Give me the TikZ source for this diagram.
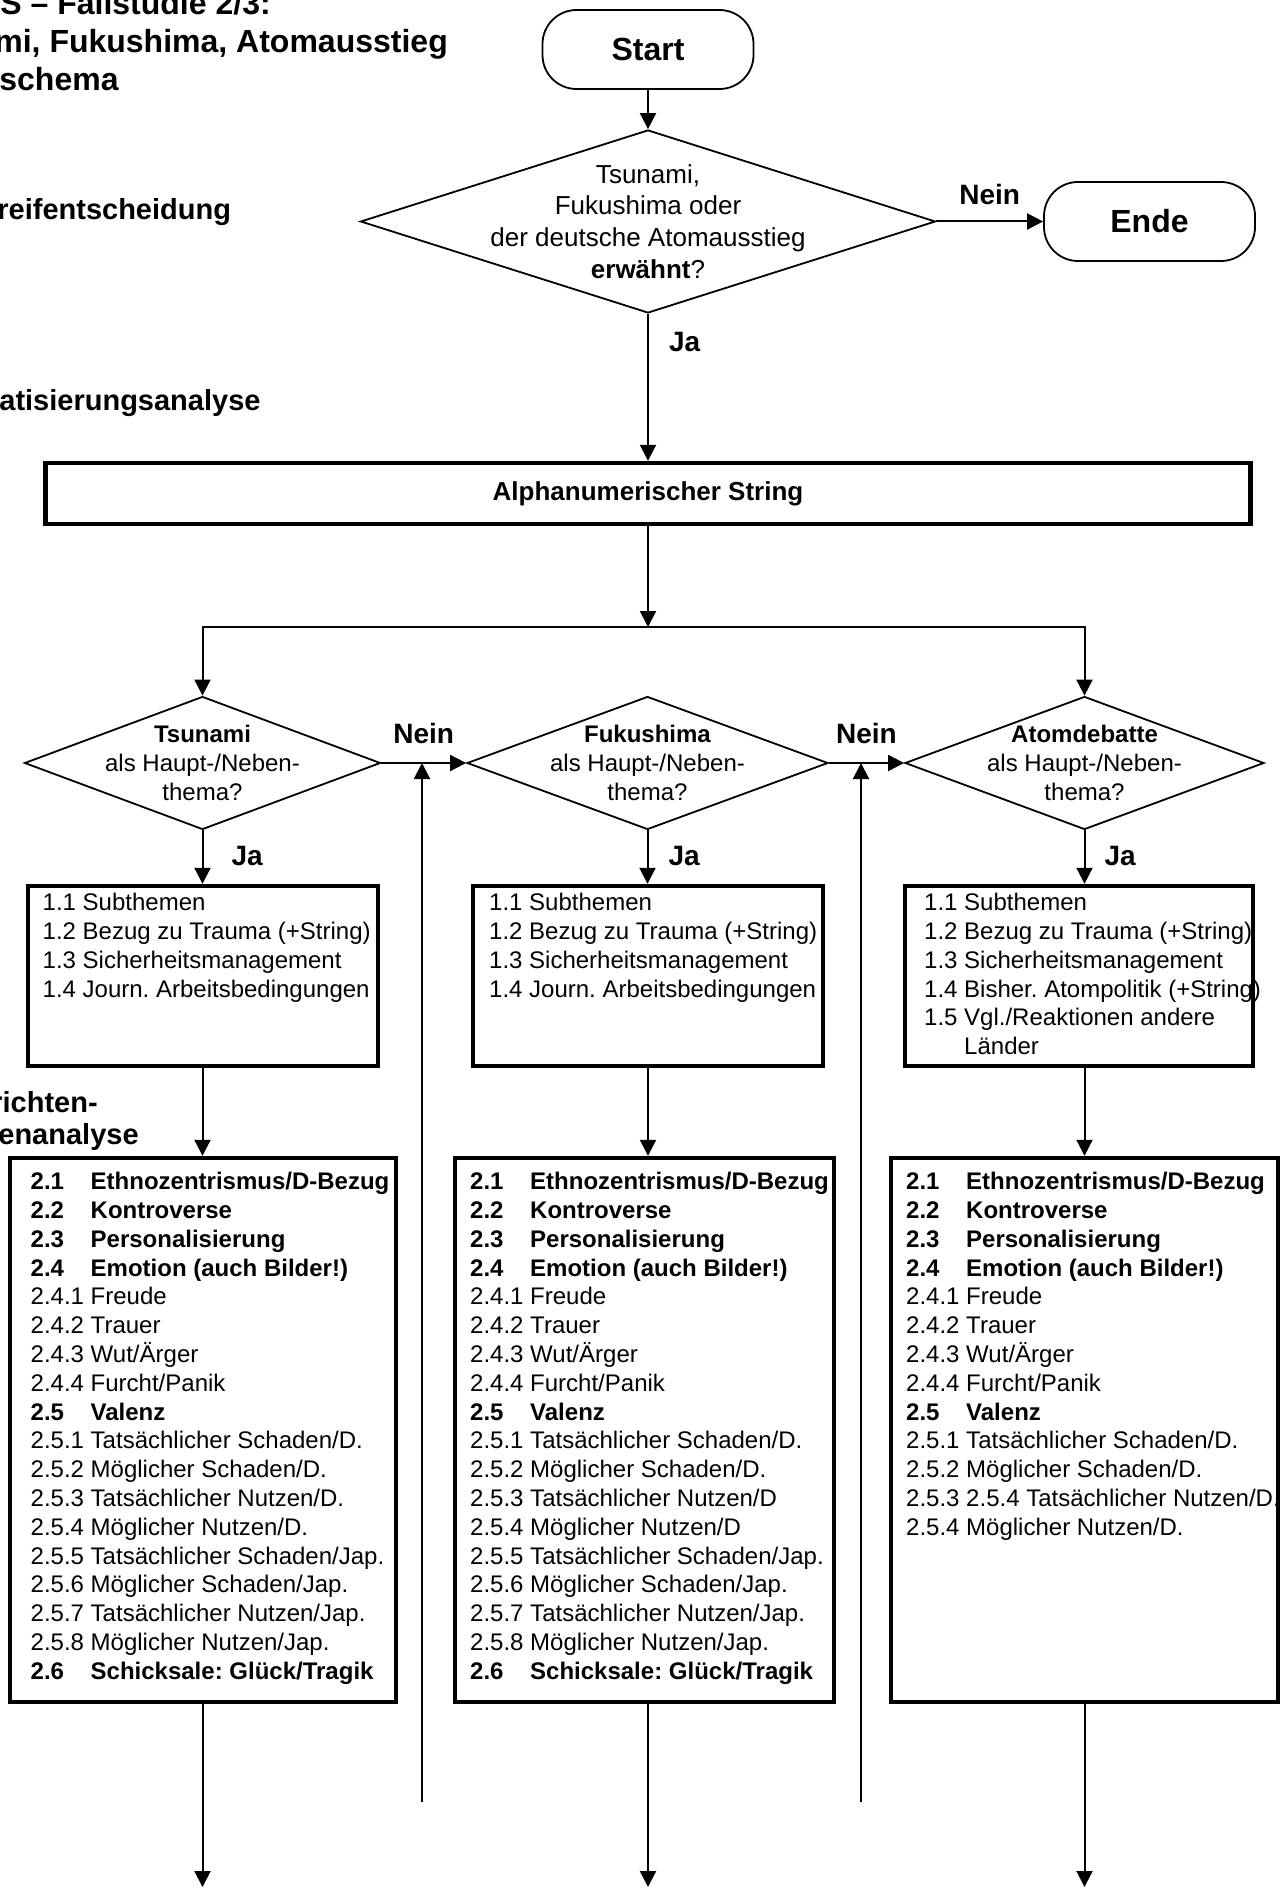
\documentclass[tikz,border=0pt]{standalone}
\usepackage{fontspec}
\setmainfont{Liberation Sans}
\usetikzlibrary{shapes.geometric,arrows.meta,positioning}
\frenchspacing

\newcommand{\kat}[2]{\textbf{\makebox[30pt][l]{#1}#2}}
\newcommand{\valenzkopf}{%
\kat{2.1}{Ethnozentrismus/D-Bezug}\\
\kat{2.2}{Kontroverse}\\
\kat{2.3}{Personalisierung}\\
\kat{2.4}{Emotion (auch Bilder!)}\\
2.4.1 Freude\\
2.4.2 Trauer\\
2.4.3 Wut/Ärger\\
2.4.4 Furcht/Panik\\
\kat{2.5}{Valenz}\\
2.5.1 Tatsächlicher Schaden/D.\\
2.5.2 Möglicher Schaden/D.}
\newcommand{\valenzjap}{%
2.5.5 Tatsächlicher Schaden/Jap.\\
2.5.6 Möglicher Schaden/Jap.\\
2.5.7 Tatsächlicher Nutzen/Jap.\\
2.5.8 Möglicher Nutzen/Jap.\\
\kat{2.6}{Schicksale: Glück/Tragik}}

\tikzset{
    terminal/.style = {draw, line width=0.9pt, rounded corners=17pt, minimum width=105.5pt,
        minimum height=39.5pt, font=\bfseries\fontsize{16}{19}\selectfont},
    raute/.style = {draw, diamond, line width=0.9pt, inner sep=0pt},
    kasten/.style = {draw, line width=2.2pt, inner sep=0pt},
    liste/.style = {inner sep=0pt, align=left, anchor=north west, font=\fontsize{12}{14.4}\selectfont},
    thema/.style = {inner sep=0pt, align=center, font=\fontsize{12}{14.7}\selectfont},
    pfeil/.style = {line width=1pt, -{Triangle[length=8pt, width=8pt]}},
    jn/.style = {inner sep=0pt, font=\bfseries\fontsize{14}{17}\selectfont},
    titel/.style = {inner sep=0pt, anchor=base west, font=\bfseries\fontsize{16}{19}\selectfont},
    stufe/.style = {inner sep=0pt, anchor=base west, font=\bfseries\fontsize{14.5}{17}\selectfont},
}

\begin{document}
\begin{tikzpicture}[x=0.5pt, y=-0.5pt]
    \useasboundingbox (0,0) rectangle (1288,1888);

    % Titel und Stufen
    \node[titel] (titel1) at (0,15) {S – Fallstudie 2/3:};
    \node[titel] (titel2) at (-6,53) {mi, Fukushima, Atomausstieg};
    \node[titel] (titel3) at (-1,91) {schema};
    \node[stufe] (stufe1) at (-3,220) {reifentscheidung};
    \node[stufe] (stufe2) at (-1,410) {atisierungsanalyse};
    \node[stufe] (stufe3a) at (-9,1112) {richten-};
    \node[stufe] (stufe3b) at (-2,1144) {enanalyse};

    % Aufgreifentscheidung
    \node[terminal] (start) at (648,49.5) {Start};
    \node[raute, minimum width=287.5pt, minimum height=91.5pt] (frage) at (648,221.5) {};
    \node[thema, font=\fontsize{13}{15.8}\selectfont] (fragetxt) at (frage)
        {Tsunami,\\Fukushima oder\\der deutsche Atomausstieg\\\textbf{erwähnt}?};
    \node[terminal] (ende) at (1149.5,221.5) {Ende};
    \node[kasten, minimum width=602.5pt, minimum height=30.5pt,
        font=\bfseries\fontsize{13}{15}\selectfont] (string) at (648,493.5) {Alphanumerischer String};
    \coordinate (split) at (648,627);

    % Themen
    \node[raute, minimum width=178pt, minimum height=66.5pt] (tsu) at (202.5,763) {};
    \node[raute, minimum width=180.5pt, minimum height=66.5pt] (fuk) at (647.5,763) {};
    \node[raute, minimum width=179.5pt, minimum height=66.5pt] (atom) at (1084.5,763) {};
    \node[thema] (tsutxt) at (tsu) {\textbf{Tsunami}\\als Haupt-/Neben-\\thema?};
    \node[thema] (fuktxt) at (fuk) {\textbf{Fukushima}\\als Haupt-/Neben-\\thema?};
    \node[thema] (atomtxt) at (atom) {\textbf{Atomdebatte}\\als Haupt-/Neben-\\thema?};

    % Subthemen
    \node[kasten, minimum width=175pt, minimum height=90pt] (subtsu) at (203,976) {};
    \node[kasten, minimum width=175pt, minimum height=90pt] (subfuk) at (648,976) {};
    \node[kasten, minimum width=174pt, minimum height=90pt] (subatom) at (1079,976) {};
    \node[liste] (subtsutxt) at ([shift={(16.5,9)}]subtsu.north west)
        {1.1 Subthemen\\1.2 Bezug zu Trauma (+String)\\1.3 Sicherheitsmanagement\\1.4 Journ. Arbeitsbedingungen};
    \node[liste] (subfuktxt) at ([shift={(18,9)}]subfuk.north west)
        {1.1 Subthemen\\1.2 Bezug zu Trauma (+String)\\1.3 Sicherheitsmanagement\\1.4 Journ. Arbeitsbedingungen};
    \node[liste] (subatomtxt) at ([shift={(21,9)}]subatom.north west)
        {1.1 Subthemen\\1.2 Bezug zu Trauma (+String)\\1.3 Sicherheitsmanagement\\1.4 Bisher. Atompolitik (+String)\\1.5 Vgl./Reaktionen andere\\\phantom{1.5}\ Länder};

    % Nachrichtenwerte
    \node[kasten, minimum width=193pt, minimum height=272pt] (nwtsu) at (203,1430) {};
    \node[kasten, minimum width=189.5pt, minimum height=272pt] (nwfuk) at (644.5,1430) {};
    \node[kasten, minimum width=193.5pt, minimum height=272pt] (nwatom) at (1084.5,1430) {};
    \node[liste] (nwtsutxt) at ([shift={(22.5,16)}]nwtsu.north west)
        {\valenzkopf\\2.5.3 Tatsächlicher Nutzen/D.\\2.5.4 Möglicher Nutzen/D.\\\valenzjap};
    \node[liste] (nwfuktxt) at ([shift={(17,16)}]nwfuk.north west)
        {\valenzkopf\\2.5.3 Tatsächlicher Nutzen/D\\2.5.4 Möglicher Nutzen/D\\\valenzjap};
    \node[liste] (nwatomtxt) at ([shift={(17,16)}]nwatom.north west)
        {\valenzkopf\\2.5.3 2.5.4 Tatsächlicher Nutzen/D.\\2.5.4 Möglicher Nutzen/D.};

    \coordinate (rueck1) at (422,1802);
    \coordinate (rueck2) at (861,1802);
    \coordinate (aus1) at (202.5,1887);
    \coordinate (aus2) at (648,1887);
    \coordinate (aus3) at (1084.5,1887);

    % Verbindungen
    \draw[pfeil] (start) -- (frage);
    \draw[pfeil] (frage.east) -- node[jn, above=8pt] {Nein} (ende.west);
    \draw[pfeil] (frage.south) -- node[jn, pos=0.19, right=10pt] {Ja} (frage.south |- string.north);
    \draw[pfeil] (string) -- (split);
    \draw[pfeil] (split) -| (tsu.north);
    \draw[pfeil] (split) -| (atom.north);
    \draw[pfeil] (tsu.east) -- node[jn, above=9pt] {Nein} (fuk.west);
    \draw[pfeil] (fuk.east) -- node[jn, above=9pt] {Nein} (atom.west);
    \draw[pfeil] (rueck1) -- (rueck1 |- tsu.east);
    \draw[pfeil] (rueck2) -- (rueck2 |- fuk.east);
    \draw[pfeil] (tsu.south) -- node[jn, pos=0.47, right=14pt] {Ja} (tsu.south |- subtsu.north);
    \draw[pfeil] (fuk.south) -- node[jn, pos=0.47, right=10pt] {Ja} (fuk.south |- subfuk.north);
    \draw[pfeil] (atom.south) -- node[jn, pos=0.47, right=9.5pt] {Ja} (atom.south |- subatom.north);
    \draw[pfeil] (subtsu.south -| aus1) -- (nwtsu.north -| aus1);
    \draw[pfeil] (subfuk.south -| aus2) -- (nwfuk.north -| aus2);
    \draw[pfeil] (subatom.south -| aus3) -- (nwatom.north -| aus3);
    \draw[pfeil] (nwtsu.south -| aus1) -- (aus1);
    \draw[pfeil] (nwfuk.south -| aus2) -- (aus2);
    \draw[pfeil] (nwatom.south -| aus3) -- (aus3);
\end{tikzpicture}
\end{document}
